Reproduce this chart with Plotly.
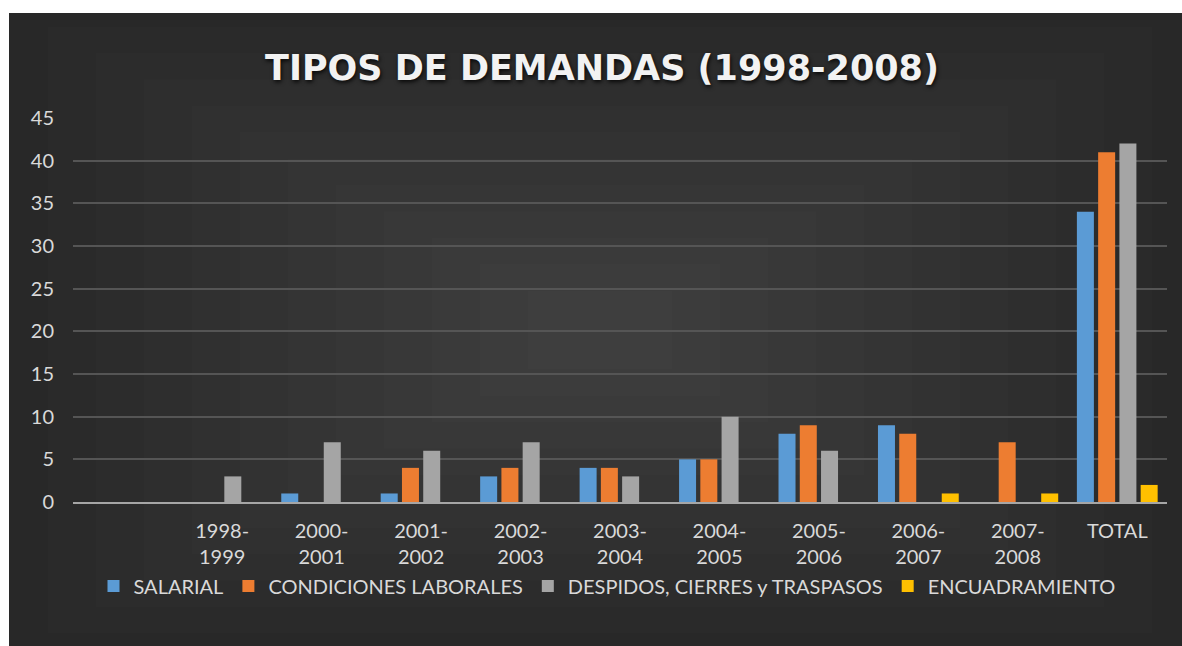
import plotly.graph_objects as go

categories = [" ", "1998-<br>1999", "2000-<br>2001", "2001-<br>2002", "2002-<br>2003",
              "2003-<br>2004", "2004-<br>2005", "2005-<br>2006", "2006-<br>2007",
              "2007-<br>2008", "TOTAL"]
salarial = [0, 0, 1, 1, 3, 4, 5, 8, 9, 0, 34]
condiciones = [0, 0, 0, 4, 4, 4, 5, 9, 8, 7, 41]
despidos = [0, 3, 7, 6, 7, 3, 10, 6, 0, 0, 42]
encuadramiento = [0, 0, 0, 0, 0, 0, 0, 0, 1, 1, 2]

series = [
    ("SALARIAL", salarial, "#5B9BD5"),
    ("CONDICIONES LABORALES", condiciones, "#ED7D31"),
    ("DESPIDOS, CIERRES y TRASPASOS", despidos, "#A5A5A5"),
    ("ENCUADRAMIENTO", encuadramiento, "#FFC000"),
]

W, H = 1182, 646
L, R, T, B = 73, 15, 118, 144
pw, ph = W - L - R, H - T - B

def px_x(p):
    return (p - L) / pw

def px_y(p):
    return (H - B - p) / ph

fig = go.Figure()
for name, vals, col in series:
    fig.add_trace(go.Bar(x=categories, y=vals, name=name, marker_color=col,
                         marker_line_width=0))

shapes = [dict(type="rect", xref="paper", yref="paper", layer="below",
               x0=px_x(9), x1=px_x(W + 2), y0=px_y(H + 2), y1=px_y(13),
               fillcolor="#282828", line_width=0)]
# soft glow toward the centre
cx, cy = 600, 330
for i in range(1, 12):
    f = 1 - i / 12.5
    hw, hh = 600 * f, 330 * f
    shapes.append(dict(type="rect", xref="paper", yref="paper", layer="below",
                       x0=px_x(cx - hw), x1=px_x(cx + hw),
                       y0=px_y(cy + hh), y1=px_y(cy - hh),
                       fillcolor="rgba(255,255,255,0.011)", line_width=0))

font = "Lato, Open Sans, sans-serif"
fig.update_layout(
    width=W, height=H,
    margin=dict(l=L, r=R, t=T, b=B),
    paper_bgcolor="white",
    plot_bgcolor="rgba(0,0,0,0)",
    barmode="group", bargap=0.145, bargroupgap=0.2,
    shapes=shapes,
    title=dict(text="<b>TIPOS DE DEMANDAS (1998-2008)</b>", x=px_x(602), xref="paper",
               xanchor="center", y=1 - 68 / H, yref="container", yanchor="middle",
               font=dict(family="DejaVu Sans, sans-serif", size=35, color="#f2f2f2",
                         shadow="1px 2px 4px rgba(0,0,0,0.85)")),
    font=dict(family=font, color="#d9d9d9", size=20),
    legend=dict(orientation="h", x=px_x(607), xanchor="center", y=px_y(586),
                yanchor="middle", font=dict(size=20, color="#d9d9d9"),
                bgcolor="rgba(0,0,0,0)", itemwidth=30, traceorder="normal"),
    xaxis=dict(type="category", showgrid=False, showline=True, linecolor="#a6a6a6",
               linewidth=2, ticks="", tickfont=dict(size=20, color="#d9d9d9"),
               ticklabelstandoff=10, tickangle=0),
    yaxis=dict(range=[0, 45], dtick=5, showgrid=True, gridcolor="#555555",
               gridwidth=1.5, zeroline=False, showline=False, ticks="",
               tickfont=dict(size=20, color="#d9d9d9"), ticklabelstandoff=18),
)

fig.write_html("out.html", config={"displayModeBar": False},
               post_script="document.body.style.margin='0';"
                           "document.body.style.overflow='hidden';")
